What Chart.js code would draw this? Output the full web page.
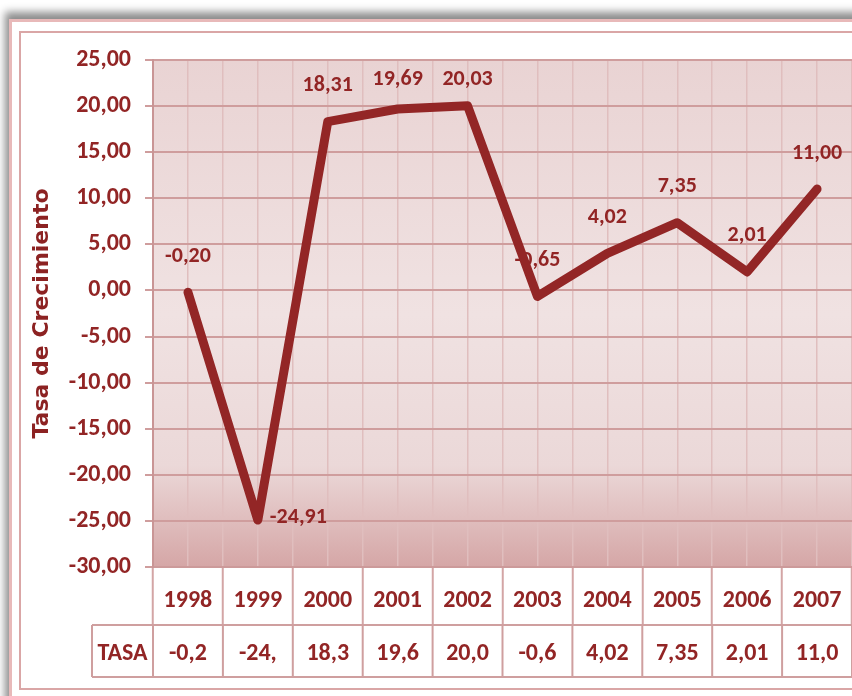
<!DOCTYPE html>
<html>
<head>
<meta charset="utf-8">
<script src="https://cdn.jsdelivr.net/npm/chart.js@4.4.0/dist/chart.umd.min.js"></script>
<style>
  body { margin: 0; background: #fff; overflow: hidden; width: 852px; height: 696px; position: relative; }
  #outer { position: absolute; left: 9px; top: 19px; width: 900px; height: 700px; border: 3px solid #e8b9b9; box-shadow: -4px -7px 8px rgba(0,0,0,0.45); background: #fff; }
  #inner { position: absolute; left: 19px; top: 31px; width: 900px; height: 655px; border: 2px solid #daa6a6; }
  #wrap { position: absolute; left: 0; top: 0; }
</style>
</head>
<body>
<div id="outer"></div>
<div id="inner"></div>
<div id="wrap"><canvas id="chart" width="852" height="696"></canvas></div>
<script>
// data
var years = ['1998', '1999', '2000', '2001', '2002', '2003', '2004', '2005', '2006', '2007'];
var tasa = [-0.20, -24.91, 18.31, 19.69, 20.03, -0.65, 4.02, 7.35, 2.01, 11.00];
var rowLabel = 'TASA';
var yTitle = 'Tasa de Crecimiento';

var red = '#922525';
var narrow = 'Carlito, Lato, sans-serif';

function fmt(v) {
  return v.toFixed(2).replace('.', ',');
}

// pink plot background, darker at the bottom
var bgPlugin = {
  id: 'bg',
  beforeDraw: function (chart) {
    var a = chart.chartArea, ctx = chart.ctx;
    var g = ctx.createLinearGradient(0, a.top, 0, a.bottom);
    g.addColorStop(0, '#e9d3d3');
    g.addColorStop(0.5, '#f0e2e2');
    g.addColorStop(0.8, '#ebd8d8');
    g.addColorStop(1, '#d5a6a6');
    ctx.save();
    ctx.fillStyle = g;
    ctx.fillRect(a.left, a.top, a.right - a.left, a.bottom - a.top);
    ctx.restore();
  }
};

// value labels next to the points (kept inside the plot area)
var labelPlugin = {
  id: 'vlabels',
  beforeDatasetsDraw: function (chart) {
    var ctx = chart.ctx;
    var meta = chart.getDatasetMeta(0);
    var minY = chart.chartArea.top + 19;
    ctx.save();
    ctx.font = 'bold 22px ' + narrow;
    ctx.fillStyle = red;
    ctx.textBaseline = 'middle';
    meta.data.forEach(function (pt, i) {
      var v = tasa[i];
      if (v < -20) {
        ctx.textAlign = 'left';
        ctx.fillText(fmt(v), pt.x + 12, pt.y - 3);
      } else {
        ctx.textAlign = 'center';
        ctx.fillText(fmt(v), pt.x, Math.max(pt.y - 36, minY));
      }
    });
    ctx.restore();
  }
};

// data table row under the axis
var tablePlugin = {
  id: 'table',
  afterDraw: function (chart) {
    var ctx = chart.ctx, x = chart.scales.x;
    var top = x.bottom, bot = top + 52, left = 92, right = chart.chartArea.right + 5;
    var w = x.getPixelForValue(1) - x.getPixelForValue(0);
    ctx.save();
    ctx.strokeStyle = '#cf9f9f';
    ctx.lineWidth = 2;
    ctx.beginPath();
    ctx.moveTo(left, top); ctx.lineTo(right, top);
    ctx.moveTo(left, bot); ctx.lineTo(right, bot);
    ctx.moveTo(left, top); ctx.lineTo(left, bot);
    for (var i = 0; i <= years.length; i++) {
      var bx = x.getPixelForValue(0) - w / 2 + i * w;
      ctx.moveTo(bx, top); ctx.lineTo(bx, bot);
    }
    ctx.stroke();
    ctx.font = 'bold 24px ' + narrow;
    ctx.fillStyle = red;
    ctx.textAlign = 'center';
    ctx.textBaseline = 'middle';
    var cy = (top + bot) / 2 + 3;
    ctx.fillText(rowLabel, (left + x.getPixelForValue(0) - w / 2) / 2, cy);
    tasa.forEach(function (v, i) {
      ctx.fillText(fmt(v).slice(0, 4), x.getPixelForValue(i), cy);
    });
    ctx.restore();
  }
};

new Chart(document.getElementById('chart'), {
  type: 'line',
  data: {
    labels: years,
    datasets: [{
      data: tasa,
      borderColor: '#932626',
      borderWidth: 9,
      pointRadius: 0,
      tension: 0,
      borderJoinStyle: 'round',
      borderCapStyle: 'round'
    }]
  },
  options: {
    responsive: false,
    animation: false,
    devicePixelRatio: 1,
    layout: { padding: { left: 25, top: 60, right: 0, bottom: 71 } },
    plugins: { legend: { display: false }, tooltip: { enabled: false } },
    scales: {
      x: {
        offset: true,
        grid: { offset: true, color: '#e0bebe', lineWidth: 1.5, tickLength: 58, tickColor: '#d3a5a5', tickWidth: 2 },
        border: { color: '#cc9a9a', width: 2 },
        ticks: { color: red, font: { family: narrow, size: 24, weight: 'bold' }, padding: -38, maxRotation: 0, autoSkip: false },
        afterFit: function (s) { s.height = 58; }
      },
      x2: {
        type: 'category',
        labels: years,
        position: 'top',
        offset: true,
        grid: { offset: false, color: '#e0bebe', lineWidth: 1.5, drawTicks: false },
        border: { display: false },
        ticks: { display: false },
        afterFit: function (s) { s.height = 0; }
      },
      y: {
        min: -30,
        max: 25,
        ticks: { stepSize: 5, color: red, padding: 14, font: { family: narrow, size: 24, weight: 'bold' }, callback: function (v) { return fmt(v); } },
        grid: { color: '#cf9d9d', lineWidth: 2, tickLength: 8, tickColor: '#cf9d9d' },
        border: { color: '#c99595', width: 2 },
        title: { display: true, text: yTitle, color: '#8c2222', font: { family: 'DejaVu Sans', weight: 'bold', size: 22 }, padding: { top: 4, bottom: 0 } },
        afterFit: function (s) { s.width = 128; }
      }
    }
  },
  plugins: [bgPlugin, labelPlugin, tablePlugin]
});
</script>
</body>
</html>
